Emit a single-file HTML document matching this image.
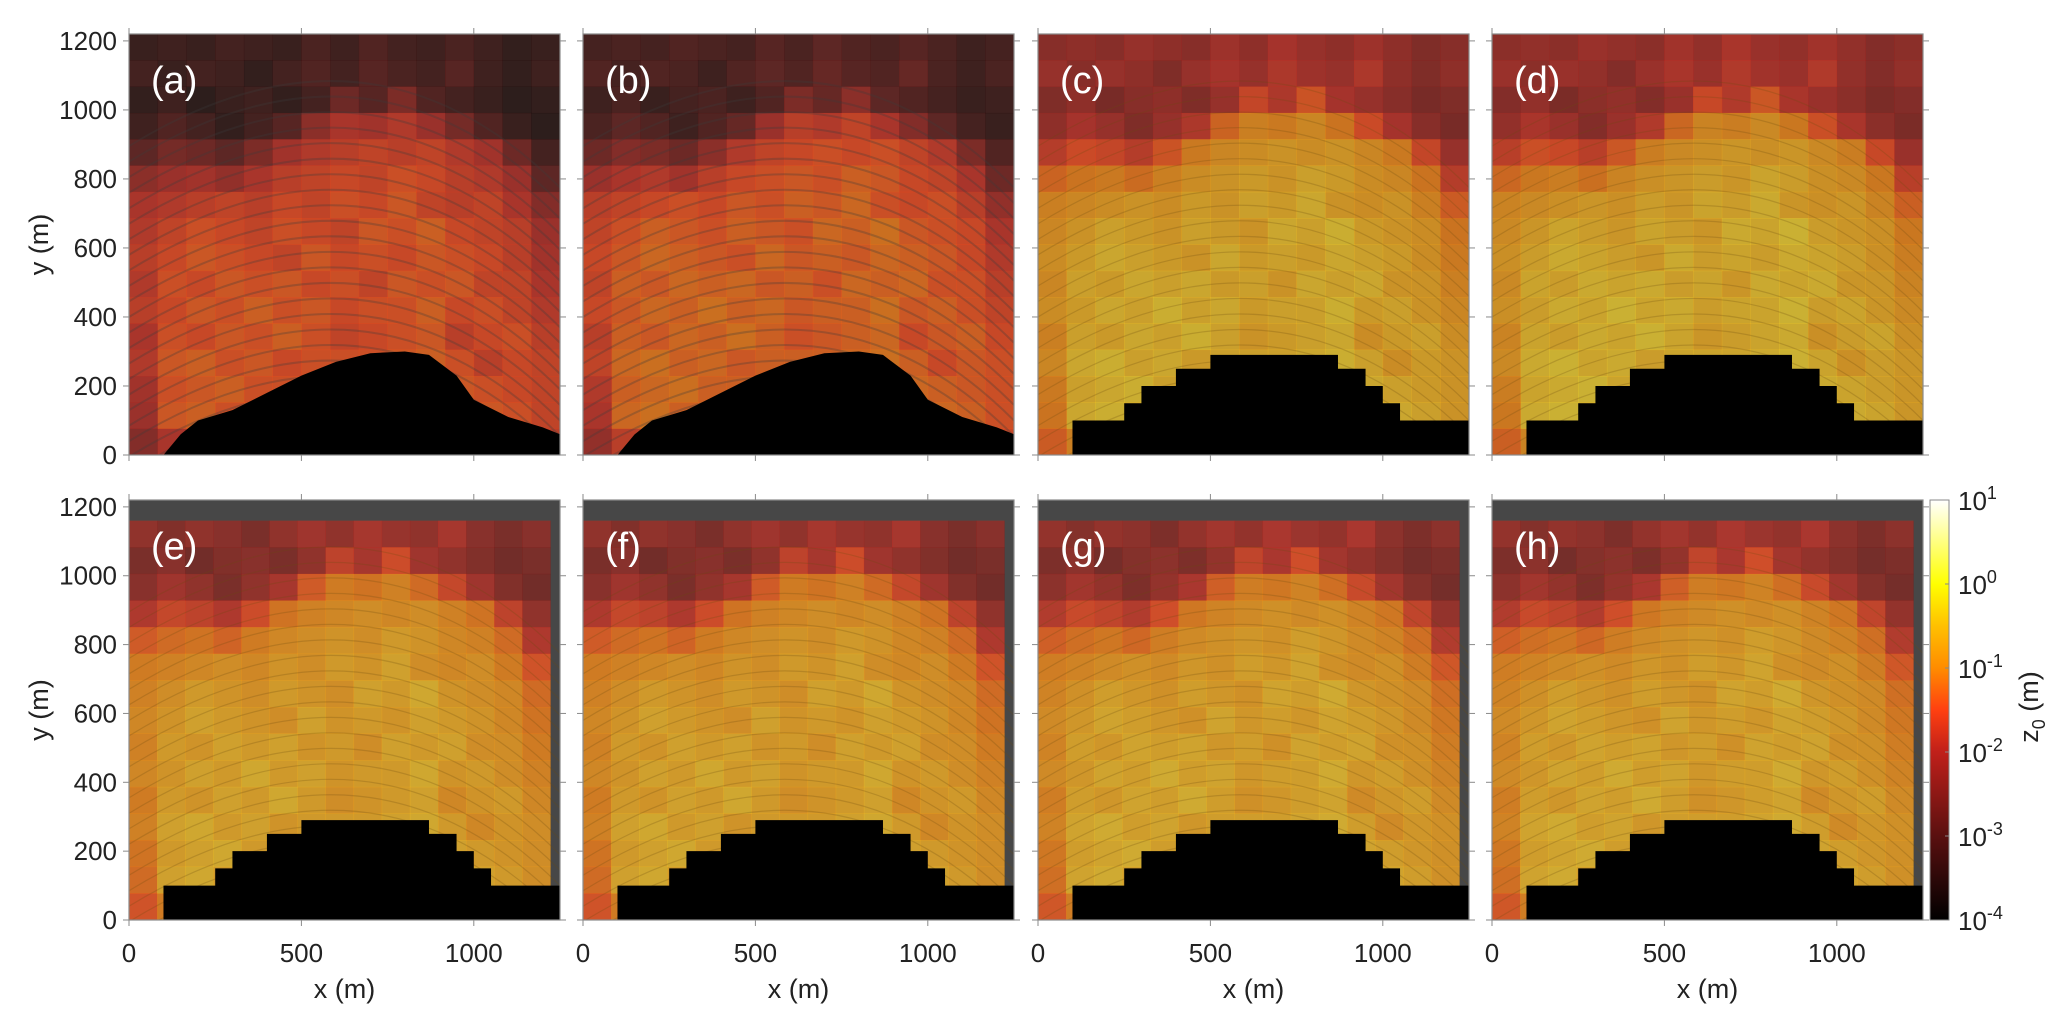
<!DOCTYPE html>
<html><head><meta charset="utf-8">
<style>
html,body{margin:0;padding:0;background:#fff;}
svg{display:block;font-family:"Liberation Sans",sans-serif;}
</style></head>
<body>
<svg id="fig" width="2067" height="1023" viewBox="0 0 2067 1023" xmlns="http://www.w3.org/2000/svg">
<defs>
<linearGradient id="cbgrad" x1="0" y1="1" x2="0" y2="0">
<stop offset="0" stop-color="#000000"/>
<stop offset="0.2" stop-color="#5a1010"/>
<stop offset="0.4" stop-color="#c0201a"/>
<stop offset="0.5" stop-color="#ff4010"/>
<stop offset="0.6" stop-color="#ff8c00"/>
<stop offset="0.7" stop-color="#ffc000"/>
<stop offset="0.8" stop-color="#ffff00"/>
<stop offset="1" stop-color="#ffffff"/>
</linearGradient>
</defs>
<g id="panels"></g>
<g id="colorbar"></g>
</svg>
<script>
// ---- data ----
const panelLabels = ["(a)","(b)","(c)","(d)","(e)","(f)","(g)","(h)"];
const panelOffset = [-1.15,-0.95,0.0,0.05,-0.15,-0.15,-0.1,-0.1];
const xTicks = [0,500,1000];
const yTicks = [0,200,400,600,800,1000,1200];
const cbTicks = [-4,-3,-2,-1,0,1];
// log10(z0) grid, rows from top to bottom, columns left to right (last column = no data)
const gridRows = [
[-2.4,-2.3,-2.4,-2.2,-2.3,-2.4,-2.1,-2.3,-2.0,-2.2,-2.3,-2.1,-2.3,-2.5,-2.4,null],
[-2.2,-2.4,-2.2,-2.3,-2.5,-2.2,-2.0,-2.2,-1.9,-2.1,-2.2,-1.9,-2.3,-2.5,-2.3,null],
[-2.5,-2.3,-2.6,-2.4,-2.3,-2.5,-2.2,-1.6,-1.9,-1.4,-2.0,-2.2,-2.4,-2.6,-2.5,null],
[-2.3,-2.0,-2.2,-2.5,-2.2,-1.9,-1.2,-0.8,-0.9,-0.7,-1.0,-1.5,-2.0,-2.4,-2.6,null],
[-1.8,-1.5,-1.6,-1.8,-1.4,-0.9,-0.7,-0.6,-0.5,-0.6,-0.5,-0.7,-0.9,-1.6,-2.2,null],
[-1.2,-1.0,-0.9,-1.1,-0.8,-0.6,-0.5,-0.4,-0.5,-0.3,-0.4,-0.6,-0.7,-1.0,-1.8,null],
[-0.8,-0.7,-0.6,-0.5,-0.6,-0.4,-0.5,-0.3,-0.4,-0.2,-0.5,-0.6,-0.5,-0.8,-1.3,null],
[-0.7,-0.5,-0.3,-0.4,-0.5,-0.3,-0.4,-0.5,-0.2,-0.3,-0.1,-0.4,-0.5,-0.6,-1.0,null],
[-0.6,-0.4,-0.2,-0.3,-0.4,-0.5,-0.2,-0.4,-0.3,-0.4,-0.2,-0.3,-0.4,-0.6,-0.9,null],
[-0.7,-0.3,-0.4,-0.2,-0.3,-0.2,-0.4,-0.3,-0.5,-0.2,-0.3,-0.2,-0.5,-0.5,-0.8,null],
[-0.6,-0.4,-0.2,-0.3,-0.1,-0.3,-0.2,-0.4,-0.3,-0.3,-0.1,-0.4,-0.3,-0.5,-0.7,null],
[-0.8,-0.3,-0.4,-0.2,-0.3,-0.1,-0.3,-0.5,-0.4,-0.3,-0.2,-0.6,-0.4,-0.3,-0.6,null],
[-0.7,-0.2,-0.1,-0.3,-0.2,-0.4,-0.3,-0.3,-0.3,-0.2,-0.1,-0.3,-0.6,-0.4,-0.5,null],
[-0.9,-0.3,-0.2,-0.1,-0.3,-0.3,-0.4,-0.4,-0.4,-0.3,-0.2,-0.2,-0.3,-0.4,-0.5,null],
[-1.0,-0.2,-0.1,-0.3,-0.2,-0.3,-0.4,-0.4,-0.4,-0.3,-0.2,-0.3,-0.2,-0.3,-0.5,null],
[-1.3,-0.8,-0.3,-0.3,-0.3,-0.3,-0.4,-0.4,-0.4,-0.3,-0.3,-0.3,-0.3,-0.4,-0.6,null]
];
// smooth dome (no-data) outline for panels a,b
const domeSmoothX = [100,150,200,300,400,500,600,700,800,870,950,1000,1100,1200,1250];
const domeSmoothY = [0,60,100,130,180,230,270,295,300,290,230,160,110,80,60];
// stepped dome for panels c-h
const domeStepX = [100,250,300,400,500,870,950,1000,1050,1250];
const domeStepY = [100,150,200,250,290,250,200,150,100];

// ---- layout ----
const panelLeft = [129,583,1038,1492];
const rowTop = [34,500], rowBottom = [455,920];
const PW = 431, XMAX = 1250, YMAX = 1220;
const NS = "http://www.w3.org/2000/svg";
const stops = [[-4,[0,0,0]],[-3,[90,16,16]],[-2,[200,36,28]],[-1.5,[255,70,20]],[-1,[255,130,10]],[-0.5,[255,175,20]],[0,[255,225,40]],[1,[255,255,255]]];
function cmap(v){
  if(v<=stops[0][0]) return stops[0][1];
  for(let i=1;i<stops.length;i++){
    if(v<=stops[i][0]){
      const a=stops[i-1],b=stops[i],t=(v-a[0])/(b[0]-a[0]);
      return a[1].map((c,k)=>Math.round(c+(b[1][k]-c)*t));
    }
  }
  return stops[stops.length-1][1];
}
function el(tag,attrs,parent){const e=document.createElementNS(NS,tag);for(const k in attrs)e.setAttribute(k,attrs[k]);parent.appendChild(e);return e;}
const root=document.getElementById('panels');
const defs=document.querySelector('defs');

for(let p=0;p<8;p++){
  const r=Math.floor(p/4), c=p%4;
  const L=panelLeft[c], T=rowTop[r], B=rowBottom[r], H=B-T;
  const sx=x=>L+x/XMAX*PW, sy=y=>B-y/YMAX*H;
  const cp=el('clipPath',{id:'clip'+p},defs);
  el('rect',{x:L,y:T,width:PW,height:H},cp);
  const g=el('g',{'clip-path':'url(#clip'+p+')'},root);
  
  
  el('rect',{x:L,y:T,width:PW,height:H,fill:r===1?'#474747':'#5a5650'},g);
  // data extent
  const bottomRow = r===1;
  const rowStart = bottomRow?1:0;
  const nR=gridRows.length-rowStart, nC=gridRows[0].length-1;
  const xSpan = bottomRow?1222:XMAX, ySpan = bottomRow?1160:YMAX;
  if(bottomRow) el('rect',{x:sx(0),y:sy(ySpan),width:sx(xSpan)-sx(0),height:sy(0)-sy(ySpan),fill:'#6a6258'},g);
  for(let i=0;i<nR;i++){
    for(let j=0;j<nC;j++){
      let v=gridRows[i+rowStart][j];
      if(v===null) continue;
      v+=panelOffset[p];
      const x0=j*xSpan/nC, x1=(j+1)*xSpan/nC, y1=ySpan-i*ySpan/nR, y0=ySpan-(i+1)*ySpan/nR;
      const col=cmap(v);
      const cell=el('rect',{x:sx(x0),y:sy(y1),width:sx(x1)-sx(x0)+0.3,height:sy(y0)-sy(y1)+0.3,fill:'rgb('+col+')','fill-opacity':0.68},g);
      
      
    }
  }
  // ripple texture
  const tex=el('g',{stroke:p<2?'#3a3a3a':'#6a4a10','stroke-width':p<2?2:1.2,'stroke-opacity':p<2?0.3:0.25,fill:'none'},g);
  for(let k=0;k<22;k++){
    const yb=150+k*45;
    let d='M'+sx(0)+','+sy(yb-200);
    d+=' Q'+sx(700)+','+sy(yb+230)+' '+sx(1250)+','+sy(yb-320);
    el('path',{d:d},tex);
  }
  // dome (no-data black)
  let pts=[];
  if(p<2){
    for(let k=0;k<domeSmoothX.length;k++) pts.push(sx(domeSmoothX[k])+','+sy(domeSmoothY[k]));
    pts.push(sx(1250)+','+sy(0)); pts.push(sx(100)+','+sy(0));
  } else {
    pts.push(sx(domeStepX[0])+','+sy(0));
    for(let k=0;k<domeStepY.length;k++){
      pts.push(sx(domeStepX[k])+','+sy(domeStepY[k]));
      pts.push(sx(domeStepX[k+1])+','+sy(domeStepY[k]));
    }
    pts.push(sx(1250)+','+sy(0));
  }
  const dome=el('polygon',{points:pts.join(' '),fill:'#000'},g);
  
  
  const lab=el('text',{x:L+22,y:T+59,'font-size':38,fill:'#fff'},g);
  lab.textContent=panelLabels[p];
  
  
  // axes group (unclipped)
  const ax=el('g',{},root);
  
  
  el('rect',{x:L,y:T,width:PW,height:H,fill:'none',stroke:'#8a8a8a','stroke-width':1.2},ax);
  for(const xv of xTicks){
    el('line',{x1:sx(xv),x2:sx(xv),y1:B,y2:B+6,stroke:'#8a8a8a'},ax);
    el('line',{x1:sx(xv),x2:sx(xv),y1:T,y2:T-6,stroke:'#8a8a8a'},ax);
    if(r===1){
      const t=el('text',{x:sx(xv),y:B+42,'font-size':26,'text-anchor':'middle',fill:'#222'},ax);
      t.textContent=xv;
      
      
    }
  }
  for(const yv of yTicks){
    el('line',{x1:L,x2:L-6,y1:sy(yv),y2:sy(yv),stroke:'#8a8a8a'},ax);
    el('line',{x1:L+PW,x2:L+PW+6,y1:sy(yv),y2:sy(yv),stroke:'#8a8a8a'},ax);
    if(c===0){
      const t=el('text',{x:117,y:sy(yv)+9,'font-size':26,'text-anchor':'end',fill:'#222'},ax);
      t.textContent=yv;
      
      
    }
  }
  if(r===1){
    const t=el('text',{x:L+PW/2,y:B+78,'font-size':27,'text-anchor':'middle',fill:'#222'},ax);
    t.textContent='x (m)';
    
    
  }
  if(c===0){
    const t=el('text',{x:0,y:0,'font-size':27,'text-anchor':'middle',fill:'#222',transform:'translate(48,'+(T+H/2)+') rotate(-90)'},ax);
    t.textContent='y (m)';
    
    
  }
}

// colorbar
const cb=document.getElementById('colorbar');
const CBX=1930,CBW=19,CBT=500,CBB=920;
el('rect',{x:CBX,y:CBT,width:CBW,height:CBB-CBT,fill:'url(#cbgrad)',stroke:'#8a8a8a','stroke-width':1},cb);
for(const tv of cbTicks){
  const y=CBB-(tv+4)/5*(CBB-CBT);
  el('line',{x1:CBX+CBW,x2:CBX+CBW-4,y1:y,y2:y,stroke:'#8a8a8a'},cb);
  const t=el('text',{x:1958,y:y+10,'font-size':26,fill:'#222'},cb);
  
  
  t.appendChild(document.createTextNode('10'));
  const s=el('tspan',{dy:-11,'font-size':18},t);
  s.textContent=String(tv);
}
const zt=el('text',{x:0,y:0,'font-size':27,'text-anchor':'middle',fill:'#222',transform:'translate(2038,707) rotate(-90)'},cb);


zt.appendChild(document.createTextNode('z'));
const sub=el('tspan',{dy:7,'font-size':18},zt);sub.textContent='0';
const rest=el('tspan',{dy:-7},zt);rest.textContent=' (m)';
</script>
</body></html>
